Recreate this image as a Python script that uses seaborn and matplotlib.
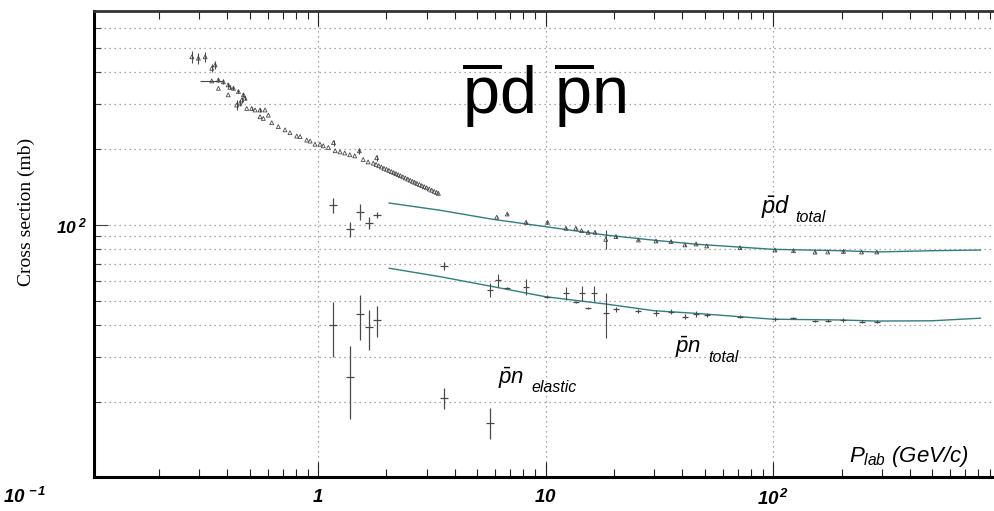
import matplotlib
matplotlib.use("Agg")
import matplotlib.pyplot as plt
import seaborn as sns
import pandas as pd
from matplotlib.ticker import LogLocator, FixedLocator, NullFormatter, FixedFormatter

# ---------------- data ----------------
# smooth fit curves
curve_p = [2.05, 3.44, 5.87, 10.0, 18.3, 30.0, 46.0, 100.0, 200.0, 285.0, 500.0, 818.0]
pd_curve_sigma = [121.8, 114.0, 105.0, 98.2, 91.0, 86.8, 83.7, 79.9, 78.9, 78.0, 78.9, 79.4]
pn_curve_sigma = [67.3, 62.3, 56.9, 51.9, 48.6, 45.7, 44.6, 42.3, 42.0, 41.6, 41.7, 42.7]

# pbar-d total, low momentum (dense set)
pd_low_p = [0.279, 0.298, 0.319, 0.341, 0.353, 0.341, 0.365, 0.384, 0.403, 0.410, 0.425,
            0.447, 0.470, 0.478, 0.439, 0.454, 0.462, 0.403, 0.365, 0.486, 0.511, 0.529,
            0.556, 0.585, 0.556, 0.575, 0.605, 0.626, 0.669, 0.716, 0.753, 0.806, 0.834,
            0.892, 0.923, 0.970, 1.02, 1.055, 1.11, 1.17, 1.19, 1.25, 1.31, 1.38, 1.45,
            1.52, 1.58, 1.66, 1.75, 1.81,
            1.80, 1.85, 1.90, 1.95, 2.00, 2.05, 2.10, 2.15, 2.20, 2.25, 2.30, 2.36, 2.42,
            2.48, 2.54, 2.60, 2.66, 2.72, 2.79, 2.86, 2.93, 3.00, 3.08, 3.16, 3.24, 3.32, 3.38]
pd_low_sigma = [461, 455, 461, 415, 428, 370, 373, 367, 357, 349, 346,
                336, 326, 316, 297, 302, 311, 326, 346, 288, 288, 284,
                284, 284, 267, 263, 271, 253, 244, 237, 231, 224, 223,
                216, 214, 208, 208, 205, 202, 211, 196, 194, 192, 189, 187,
                196, 181, 177, 175, 184,
                173, 171, 169, 167, 165.6, 163.9, 162.2, 160.6, 159.1, 157.6, 156.2, 154.6, 153,
                151.4, 149.9, 148.4, 147, 145.6, 144.2, 142.7, 141.3, 139.9, 138.3, 136.8, 135.4, 134.1, 133]
pd_low_err = [26, 22, 22, 15, 15, 0, 8, 8, 6, 6, 6,
              6, 6, 6, 14, 8, 8, 0, 0, 0, 4, 0,
              4, 0, 0, 0, 0, 0, 0, 0, 0, 0, 0,
              0, 0, 0, 0, 0, 0, 6, 0, 0, 0, 0, 0,
              5, 0, 0, 0, 5,
              0, 0, 0, 0, 0, 0, 0, 0, 0, 0, 0, 0, 0,
              0, 0, 0, 0, 0, 0, 0, 0, 0, 0, 0, 0, 0, 0]
pd_low_xerr_lo = [0, 0, 0, 0, 0, 0.038] + [0] * 71
pd_low_xerr_hi = [0, 0, 0, 0, 0, 0.041] + [0] * 71

# pbar-d total, high momentum
pd_high_p = [6.10, 6.79, 8.21, 10.2, 12.3, 13.6, 14.4, 15.4, 16.5, 18.4, 20.4, 25.6, 30.6,
             35.6, 41.0, 45.9, 51.1, 71.6, 102, 123, 153, 174, 204, 245, 286]
pd_high_sigma = [107, 110.2, 102.2, 102.2, 96.8, 96.8, 94.7, 93.3, 93.3, 87.5, 89.7, 87.0, 86.2,
                 85.7, 83.2, 83.9, 82.4, 81.1, 79.4, 78.9, 77.9, 78.0, 78.4, 78.0, 78.0]
pd_high_err = [1.2, 1.2, 1.5, 1.2, 0.8, 0.8, 0.8, 0.8, 0.8, 7.5, 1.2, 1.0, 1.0,
               1.0, 0.8, 0.8, 0.8, 0.8, 1.0, 0.6, 0.6, 0.6, 0.8, 0.6, 0.6]

# pbar-n total, high momentum
pn_high_p = [5.70, 6.16, 6.79, 8.21, 10.2, 12.3, 13.6, 14.4, 15.3, 16.3, 18.4, 20.4, 25.6,
             30.6, 35.6, 41.0, 45.9, 51.1, 71.6, 102, 123, 153, 174, 204, 245, 286]
pn_high_sigma = [55.2, 60.4, 56.1, 56.9, 51.9, 53.6, 49.6, 53.6, 46.9, 53.6, 44.7, 46.3, 45.6,
                 44.9, 45.3, 43.3, 44.2, 44.0, 43.3, 42.3, 42.7, 41.6, 41.7, 42.0, 41.4, 41.4]
pn_high_err = [3.4, 3.6, 0.5, 4.0, 0.8, 3.3, 0.5, 3.6, 0.5, 3.8, 9.0, 1.0, 1.0,
               1.2, 1.0, 1.0, 1.2, 0.8, 0.5, 0.8, 0.5, 0.5, 0.5, 0.8, 0.5, 0.5]

# pbar-n total, low momentum
pn_low_p = [1.16, 1.38, 1.53, 1.676, 1.823, 3.58]
pn_low_sigma = [119.7, 95.9, 111.9, 101.8, 109.2, 68.7]
pn_low_err_lo = [8.8, 6.8, 7.5, 5.9, 3.3, 2.5]
pn_low_err_hi = [7.3, 6.9, 8.8, 5.2, 3.3, 2.5]

# pbar-n elastic
el_p = [1.16, 1.38, 1.53, 1.676, 1.823, 3.58, 5.70]
el_sigma = [40.2, 25.1, 44.2, 39.3, 42.0, 20.6, 16.5]
el_err_lo = [10.1, 8.1, 9.2, 7.3, 5.9, 2.0, 2.3]
el_err_hi = [9.4, 7.9, 8.5, 6.7, 5.7, 2.0, 2.3]

x_tick_values = [1, 10, 100]
x_tick_labels = [r'$\mathbf{1}$', r'$\mathbf{10}$', r'$\mathbf{10^{\,2}}$']
y_tick_values = [100]
y_tick_labels = [r'$\mathbf{10^{\;2}}$']

# ---------------- style ----------------
sns.set_style("white")
plt.rcParams['font.family'] = ['Liberation Sans', 'DejaVu Sans']
plt.rcParams['mathtext.fontset'] = 'custom'
plt.rcParams['mathtext.rm'] = 'Liberation Sans'
plt.rcParams['mathtext.it'] = 'Liberation Sans:italic'
plt.rcParams['mathtext.bf'] = 'Liberation Sans:bold:italic'
plt.rcParams['text.color'] = 'black'
plt.rcParams['axes.labelcolor'] = 'black'
plt.rcParams['xtick.labelcolor'] = 'black'
plt.rcParams['ytick.labelcolor'] = 'black'

W, H = 994, 511
fig = plt.figure(figsize=(W / 100, H / 100), dpi=100)
ax = fig.add_axes([94 / W, 1 - 476.7 / H, 900 / W, (476.7 - 11) / H])
ax.set_xscale('log')
ax.set_yscale('log')

curve_color = '#2f7f80'
pt_color = '#4a4a4a'

df_curve = pd.DataFrame({'p': curve_p * 2,
                         'sigma': pd_curve_sigma + pn_curve_sigma,
                         'reaction': ['pd'] * len(curve_p) + ['pn'] * len(curve_p)})
sns.lineplot(data=df_curve, x='p', y='sigma', units='reaction', estimator=None,
             sort=False, color=curve_color, lw=1.0, ax=ax, legend=False)

# low momentum pbar-d: open triangles
df_pdl = pd.DataFrame({'p': pd_low_p, 'sigma': pd_low_sigma})
sns.scatterplot(data=df_pdl, x='p', y='sigma', marker='^', s=8, facecolor='none',
                edgecolor=pt_color, linewidth=0.6, ax=ax, legend=False, zorder=3)
ax.errorbar(pd_low_p, pd_low_sigma, yerr=pd_low_err,
            xerr=[pd_low_xerr_lo, pd_low_xerr_hi],
            fmt='none', ecolor=pt_color, elinewidth=0.8, capsize=0, zorder=3)

# high momentum pbar-d
df_pdh = pd.DataFrame({'p': pd_high_p, 'sigma': pd_high_sigma})
sns.scatterplot(data=df_pdh, x='p', y='sigma', marker='^', s=8, facecolor='none',
                edgecolor=pt_color, linewidth=0.6, ax=ax, legend=False, zorder=3)
ax.errorbar(pd_high_p, pd_high_sigma, yerr=pd_high_err, fmt='none',
            ecolor=pt_color, elinewidth=0.8, capsize=0, zorder=3)

# high momentum pbar-n
ax.errorbar(pn_high_p, pn_high_sigma, yerr=pn_high_err, fmt='_', ms=4, mew=0.9,
            color=pt_color, ecolor=pt_color, elinewidth=0.8, capsize=0, zorder=3)

# low momentum pbar-n total
ax.errorbar(pn_low_p, pn_low_sigma, yerr=[pn_low_err_lo, pn_low_err_hi], fmt='_', ms=6,
            mew=0.9, color=pt_color, ecolor=pt_color, elinewidth=0.9, capsize=0, zorder=3)

# pbar-n elastic
ax.errorbar(el_p, el_sigma, yerr=[el_err_lo, el_err_hi], fmt='_', ms=6,
            mew=0.9, color=pt_color, ecolor=pt_color, elinewidth=0.9, capsize=0, zorder=3)

# ---------------- axes ----------------
ax.set_xlim(0.1036, 936)
ax.set_ylim(10.09, 699)
ax.set_xlabel('')
ax.set_ylabel('')

ax.xaxis.set_major_locator(FixedLocator(x_tick_values))
ax.xaxis.set_major_formatter(FixedFormatter(x_tick_labels))
ax.xaxis.set_minor_locator(LogLocator(base=10, subs=[2, 3, 4, 5, 6, 7, 8, 9], numticks=20))
ax.xaxis.set_minor_formatter(NullFormatter())
ax.yaxis.set_major_locator(FixedLocator(y_tick_values))
ax.yaxis.set_major_formatter(FixedFormatter(y_tick_labels))
ax.yaxis.set_minor_locator(LogLocator(base=10, subs=[2, 3, 4, 5, 6, 7, 8, 9], numticks=20))
ax.yaxis.set_minor_formatter(NullFormatter())

ax.tick_params(axis='x', which='both', direction='in', top=True, bottom=True,
               color='#222222', width=0.8)
ax.tick_params(axis='x', which='major', length=11, pad=9, labelsize=13.5)
ax.tick_params(axis='x', which='minor', length=6)
ax.tick_params(axis='y', which='both', direction='in', left=True, right=False,
               color='#444444', width=0.8)
ax.tick_params(axis='y', which='major', length=10, pad=5, labelsize=12.5)
ax.tick_params(axis='y', which='minor', length=5)

ax.grid(True, which='both', axis='y', ls=(0, (1, 3)), color='#8a8a8a', lw=0.9)
ax.grid(True, which='major', axis='x', ls=(0, (1, 3)), color='#8a8a8a', lw=0.9)
ax.set_axisbelow(True)

for s in ['left', 'bottom']:
    ax.spines[s].set_linewidth(2.2)
    ax.spines[s].set_color('black')
ax.spines['top'].set_linewidth(2.0)
ax.spines['top'].set_color('#333333')
ax.spines['right'].set_visible(False)

# ---------------- texts ----------------
def px(x, y):
    return x / W, 1 - y / H

fig.text(*px(25, 497), r'$\mathbf{10^{\,-1}}$', fontsize=13.5, ha='center', va='center')

ax.set_ylabel('Cross section (mb)', family='Liberation Serif', fontsize=14)
ax.yaxis.set_label_coords((35 - 94) / 900, (476.7 - 212) / 465.7)

fig.text(*px(849, 462), r'$P_{lab}$ (GeV/c)', fontsize=16, style='italic',
         family='Liberation Sans', va='baseline', ha='left')

fig.text(*px(544, 113), r'$\overline{\mathrm{p}}\mathrm{d}\ \overline{\mathrm{p}}\mathrm{n}$',
         fontsize=48, ha='center', va='baseline', color='black')

fig.text(*px(761, 213), r'$\bar{p}d$', fontsize=17, ha='left', va='baseline')
fig.text(*px(795, 221.7), 'total', fontsize=11.5, style='italic', ha='left', va='baseline')
fig.text(*px(675, 353), r'$\bar{p}n$', fontsize=16, ha='left', va='baseline')
fig.text(*px(708, 361.7), 'total', fontsize=11.5, style='italic', ha='left', va='baseline')
fig.text(*px(498, 384), r'$\bar{p}n$', fontsize=16, ha='left', va='baseline')
fig.text(*px(531.7, 392), 'elastic', fontsize=11.5, style='italic', ha='left', va='baseline')

fig.savefig('out.png', dpi=100)
